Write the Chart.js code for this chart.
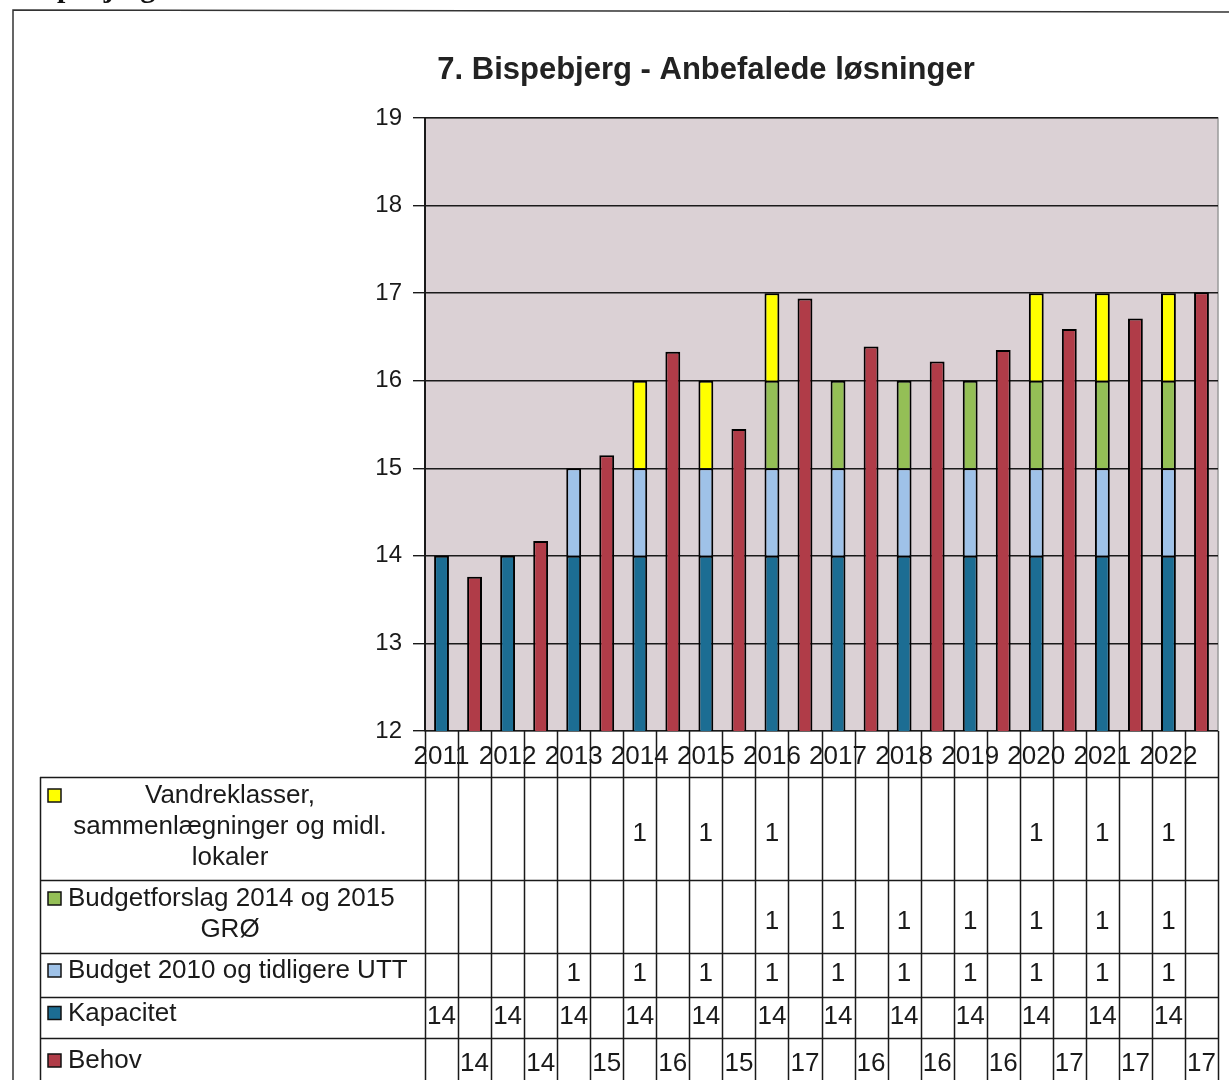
<!DOCTYPE html>
<html>
<head>
<meta charset="utf-8">
<script src="https://cdn.jsdelivr.net/npm/chart.js@4/dist/chart.umd.min.js"></script>
<style>
  body { margin: 0; background: #fff; }
  canvas { display: block; }
</style>
</head>
<body>
<canvas id="bispebjergChart" width="1229" height="1080"></canvas>
<script>
// data per year
const years = ['2011', '2012', '2013', '2014', '2015', '2016', '2017', '2018', '2019', '2020', '2021', '2022']
const kapacitet = [14, 14, 14, 14, 14, 14, 14, 14, 14, 14, 14, 14]
const budget2010 = [null, null, 1, 1, 1, 1, 1, 1, 1, 1, 1, 1]
const budgetforslag = [null, null, null, null, null, 1, 1, 1, 1, 1, 1, 1]
const vandreklasser = [null, null, null, 1, 1, 1, null, null, null, 1, 1, 1]
const behov = [13.76, 14.17, 15.15, 16.33, 15.45, 16.94, 16.39, 16.22, 16.35, 16.59, 16.71, 17.01]

// hver aargang har to soejler: kapacitet-stak og behov
const labels = years.flatMap((y) => [y, ''])
const onCapacity = (arr) => arr.flatMap((v) => [v, null])
const onNeed = (arr) => arr.flatMap((v) => [null, v])

const colors = {
  kapacitet: '#1c6d93',
  budget2010: '#9fc2e8',
  budgetforslag: '#94bf56',
  vandreklasser: '#ffff00',
  behov: '#b03c48',
}

const series = [
  { label: 'Kapacitet', data: onCapacity(kapacitet), color: colors.kapacitet },
  { label: 'Budget 2010 og tidligere UTT', data: onCapacity(budget2010), color: colors.budget2010 },
  { label: 'Budgetforslag 2014 og 2015 GRØ', data: onCapacity(budgetforslag), color: colors.budgetforslag },
  { label: 'Vandreklasser, sammenlægninger og midl. lokaler', data: onCapacity(vandreklasser), color: colors.vandreklasser },
  { label: 'Behov', data: onNeed(behov), color: colors.behov },
]

// tabel-raekker, oeverst foerst (som i Excel)
const tableRows = [
  { lines: ['Vandreklasser,', 'sammenlægninger og midl.', 'lokaler'], ds: 3, top: 777, bottom: 880 },
  { lines: ['Budgetforslag 2014 og 2015', 'GRØ'], ds: 2, top: 880, bottom: 953 },
  { lines: ['Budget 2010 og tidligere UTT'], ds: 1, top: 953, bottom: 997 },
  { lines: ['Kapacitet'], ds: 0, top: 997, bottom: 1038 },
  { lines: ['Behov'], ds: 4, top: 1038, bottom: 1092 },
]

const FONT = '"Liberation Sans", Arial, sans-serif'

const backgroundPlugin = {
  id: 'plotBackground',
  beforeDraw(chart) {
    const { ctx, chartArea } = chart
    ctx.save()
    ctx.fillStyle = '#fff'
    ctx.fillRect(0, 0, chart.width, chart.height)
    ctx.fillStyle = '#dbd1d5'
    ctx.fillRect(chartArea.left, chartArea.top, chartArea.right - chartArea.left, chartArea.bottom - chartArea.top)
    ctx.strokeStyle = '#9a9a9a'
    ctx.lineWidth = 1.5
    ctx.strokeRect(chartArea.left, chartArea.top, chartArea.right - chartArea.left, chartArea.bottom - chartArea.top)
    ctx.restore()
  },
}

const tablePlugin = {
  id: 'dataTable',
  afterDraw(chart) {
    const { ctx, chartArea } = chart
    const x = chart.scales.x
    const half = (x.getPixelForValue(1) - x.getPixelForValue(0)) / 2
    const tableLeft = 40
    ctx.save()

    // afskaaret overskrift oeverst og ramme
    ctx.fillStyle = '#111'
    ctx.font = 'bold 30px "Liberation Serif", serif'
    ctx.textBaseline = 'alphabetic'
    ctx.fillText('Bispebjerg', 17, -3)
    ctx.strokeStyle = '#333'
    ctx.lineWidth = 1.5
    ctx.beginPath()
    ctx.moveTo(13, 1080)
    ctx.lineTo(13, 10)
    ctx.lineTo(1229, 12)
    ctx.stroke()

    // titel
    ctx.font = 'bold 31px ' + FONT
    ctx.textAlign = 'center'
    ctx.textBaseline = 'middle'
    ctx.fillStyle = '#222'
    ctx.fillText('7. Bispebjerg - Anbefalede løsninger', 706, 70)

    // gitterlinjer i tabellen
    ctx.strokeStyle = '#1a1a1a'
    ctx.lineWidth = 1.5
    ctx.beginPath()
    for (let i = 0; i <= labels.length; i++) {
      const px = Math.round(x.getPixelForValue(0) - half + i * 2 * half) + 0.5
      ctx.moveTo(px, chartArea.bottom)
      ctx.lineTo(px, chart.height)
    }
    ctx.moveTo(tableLeft + 0.5, tableRows[0].top)
    ctx.lineTo(tableLeft + 0.5, chart.height)
    tableRows.forEach((row) => {
      ctx.moveTo(tableLeft, row.top + 0.5)
      ctx.lineTo(chartArea.right, row.top + 0.5)
    })
    ctx.stroke()

    tableRows.forEach((row) => {
      const ds = series[row.ds]
      const n = row.lines.length
      const lineH = 31
      const mid = (row.top + row.bottom) / 2
      const firstY = n === 1 ? mid - 4 : row.top + 19

      // farvenoegle
      ctx.fillStyle = ds.color
      ctx.fillRect(48, firstY - 7, 13, 13)
      ctx.strokeStyle = '#111'
      ctx.lineWidth = 1.5
      ctx.strokeRect(48, firstY - 7, 13, 13)

      ctx.fillStyle = '#1a1a1a'
      ctx.font = '26px ' + FONT
      ctx.textBaseline = 'middle'
      row.lines.forEach((line, li) => {
        const y = firstY + li * lineH
        if (n === 1 || (li === 0 && row.ds === 2)) {
          ctx.textAlign = 'left'
          ctx.fillText(line, 68, y)
        } else {
          ctx.textAlign = 'center'
          ctx.fillText(line, 230, y)
        }
      })

      // tal
      ctx.font = '26px ' + FONT
      ctx.textAlign = 'center'
      const numY = n === 1 ? mid - 1 : mid + 5
      ds.data.forEach((v, i) => {
        if (v === null) return
        ctx.fillText(String(Math.round(v)), x.getPixelForValue(i), numY)
      })
    })

    ctx.restore()
  },
}

const ctx = document.getElementById('bispebjergChart').getContext('2d')

window.bispebjergChartInstance = new Chart(ctx, {
  type: 'bar',
  data: {
    labels: labels,
    datasets: series.map((s) => ({
      label: s.label,
      data: s.data,
      backgroundColor: s.color,
      borderColor: '#000',
      borderWidth: 2,
      categoryPercentage: 1,
      barPercentage: 0.45,
    })),
  },
  options: {
    responsive: false,
    animation: false,
    layout: { padding: { top: 118, right: 11, left: 0, bottom: 0 } },
    plugins: {
      legend: { display: false },
      tooltip: { enabled: false },
      title: { display: false },
    },
    scales: {
      x: {
        stacked: true,
        grid: { display: false },
        border: { display: false },
        ticks: {
          autoSkip: false,
          maxRotation: 0,
          color: '#1a1a1a',
          padding: 2,
          font: { family: FONT, size: 26 },
        },
        afterFit: (scale) => {
          scale.height = 349
        },
      },
      y: {
        stacked: true,
        min: 12,
        max: 19,
        ticks: {
          stepSize: 1,
          color: '#1a1a1a',
          padding: 11,
          font: { family: FONT, size: 24 },
        },
        grid: { color: '#1a1a1a', lineWidth: 1.4, tickLength: 12 },
        border: { color: '#1a1a1a', width: 2 },
        afterFit: (scale) => {
          scale.width = 425
        },
      },
    },
  },
  plugins: [backgroundPlugin, tablePlugin],
})
</script>
</body>
</html>
